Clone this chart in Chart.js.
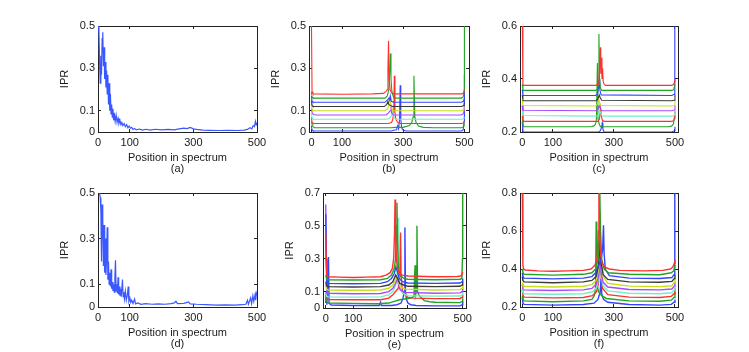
<!DOCTYPE html>
<html>
<head>
<meta charset="utf-8">
<script src="https://cdn.jsdelivr.net/npm/chart.js@4.4.1/dist/chart.umd.min.js"></script>
<style>
  html, body { margin: 0; padding: 0; background: #fff; }
  body { width: 749px; height: 352px; position: relative; overflow: hidden; }
  canvas { position: absolute; }
</style>
</head>
<body>
<canvas id="pa"></canvas>
<canvas id="pb"></canvas>
<canvas id="pc"></canvas>
<canvas id="pd"></canvas>
<canvas id="pe"></canvas>
<canvas id="pf"></canvas>
<script>
// tick labels
const xTicks = [0, 100, 300, 500];
const yTicksAB = [0, 0.1, 0.3, 0.5];
const yTicksC = [0.2, 0.4, 0.6];
const yTicksE = [0, 0.1, 0.3, 0.5, 0.7];
const yTicksF = [0.2, 0.4, 0.6, 0.8];

// line colours, top curve to bottom curve
const lineColors = ['#ff3030', '#22a322', '#3344ff', '#3a3a3a', '#c8de18', '#a848ff', '#70f0c4', '#ff3030', '#22a322', '#3344ff'];
const singleColor = '#3a58ff';

// (a) single sample, [position, IPR]
const iprA = [[1,0.5],[3,0.47],[5,0.33],[7,0.23],[9,0.36],[11,0.27],[13,0.44],[15,0.47],[17,0.31],[19,0.40],[21,0.25],[23,0.33],[25,0.21],[27,0.29],[29,0.18],[31,0.27],[33,0.13],[35,0.23],[37,0.10],[39,0.18],[41,0.085],[43,0.13],[45,0.07],[47,0.11],[49,0.055],[51,0.09],[54,0.05],[57,0.08],[60,0.045],[63,0.065],[66,0.04],[69,0.055],[72,0.035],[75,0.045],[78,0.03],[82,0.04],[86,0.025],[90,0.035],[94,0.02],[98,0.028],[102,0.018],[106,0.022],[110,0.012],[115,0.017],[120,0.01],[130,0.014],[140,0.009],[150,0.013],[165,0.009],[180,0.013],[200,0.01],[220,0.012],[240,0.01],[255,0.015],[270,0.018],[280,0.016],[290,0.022],[300,0.015],[310,0.012],[330,0.009],[350,0.008],[380,0.007],[410,0.008],[440,0.007],[460,0.009],[470,0.012],[478,0.02],[484,0.015],[488,0.03],[492,0.025],[495,0.05],[497,0.035],[499,0.045],[500,0.03]];

// (d) single sample
const iprD = [[5,0.5],[7,0.48],[9,0.42],[11,0.2],[13,0.45],[15,0.38],[17,0.18],[19,0.36],[21,0.15],[23,0.3],[25,0.14],[27,0.22],[29,0.35],[31,0.12],[33,0.2],[35,0.1],[37,0.15],[39,0.09],[41,0.165],[43,0.08],[45,0.11],[47,0.07],[49,0.1],[51,0.065],[53,0.13],[55,0.205],[57,0.07],[59,0.1],[61,0.06],[63,0.13],[65,0.055],[67,0.09],[69,0.05],[71,0.08],[73,0.045],[77,0.12],[79,0.045],[81,0.065],[83,0.035],[86,0.07],[89,0.03],[92,0.05],[95,0.09],[97,0.025],[100,0.04],[103,0.02],[106,0.03],[110,0.015],[115,0.035],[118,0.014],[125,0.018],[135,0.012],[150,0.015],[170,0.012],[190,0.014],[210,0.012],[230,0.015],[240,0.018],[245,0.025],[250,0.015],[270,0.016],[285,0.022],[290,0.014],[310,0.012],[340,0.01],[370,0.008],[400,0.009],[430,0.008],[455,0.01],[465,0.012],[470,0.03],[473,0.012],[480,0.04],[483,0.015],[487,0.05],[490,0.025],[494,0.055],[496,0.03],[498,0.06],[500,0.05]];

// (b) ten curves
const iprB = [
  [[0,0.52],[2,0.19],[5,0.18],[100,0.178],[200,0.18],[235,0.182],[243,0.19],[248,0.2],[250,0.3],[252,0.43],[254,0.25],[257,0.2],[262,0.185],[270,0.18],[300,0.18],[400,0.18],[490,0.18],[496,0.182],[498,0.19],[500,0.2]],
  [[0,0.19],[2,0.165],[5,0.16],[240,0.16],[248,0.17],[253,0.2],[256,0.3],[258,0.37],[260,0.25],[263,0.19],[268,0.165],[275,0.16],[490,0.16],[496,0.165],[499,0.19],[500,0.5]],
  [[0,0.17],[2,0.145],[5,0.14],[240,0.14],[248,0.15],[253,0.16],[256,0.15],[258,0.17],[261,0.145],[268,0.14],[490,0.14],[497,0.145],[500,0.16]],
  [[0,0.15],[2,0.125],[5,0.12],[238,0.12],[246,0.13],[250,0.145],[253,0.13],[258,0.125],[265,0.12],[490,0.12],[498,0.125],[500,0.14]],
  [[0,0.14],[2,0.105],[5,0.1],[240,0.1],[250,0.11],[255,0.16],[258,0.14],[262,0.12],[265,0.1],[490,0.1],[498,0.105],[500,0.12]],
  [[0,0.11],[1,0.1],[3,0.09],[6,0.082],[15,0.08],[244,0.08],[252,0.09],[257,0.1],[260,0.12],[262,0.09],[268,0.08],[490,0.08],[496,0.085],[499,0.1],[500,0.12]],
  [[0,0.09],[2,0.065],[5,0.06],[245,0.06],[255,0.065],[262,0.08],[266,0.1],[270,0.07],[275,0.06],[490,0.06],[498,0.063],[500,0.07]],
  [[0,0.07],[2,0.045],[5,0.04],[250,0.04],[262,0.045],[266,0.06],[269,0.1],[271,0.265],[273,0.09],[276,0.06],[282,0.045],[290,0.04],[490,0.04],[498,0.043],[500,0.05]],
  [[0,0.05],[3,0.03],[6,0.025],[10,0.02],[260,0.02],[275,0.022],[300,0.022],[320,0.03],[328,0.045],[332,0.07],[335,0.265],[338,0.07],[342,0.045],[350,0.028],[365,0.022],[400,0.02],[490,0.02],[498,0.025],[500,0.04]],
  [[0,0.03],[2,0.01],[5,0.005],[260,0.005],[270,0.008],[278,0.01],[282,0.03],[285,0.015],[288,0.06],[290,0.22],[292,0.06],[295,0.02],[300,0.008],[310,0.005],[490,0.005],[496,0.01],[499,0.05],[500,0.27]]
];

// (c) ten curves
const iprC = [
  [[0,0.62],[2,0.38],[5,0.376],[240,0.376],[248,0.38],[251,0.39],[253,0.45],[255,0.52],[257,0.42],[259,0.48],[261,0.4],[263,0.44],[265,0.39],[268,0.38],[272,0.376],[490,0.376],[496,0.38],[499,0.39],[500,0.4]],
  [[0,0.38],[2,0.36],[5,0.357],[240,0.357],[246,0.36],[249,0.38],[251,0.57],[253,0.4],[256,0.365],[260,0.357],[490,0.357],[496,0.36],[500,0.38]],
  [[0,0.36],[2,0.34],[5,0.338],[240,0.338],[247,0.345],[250,0.37],[252,0.4],[254,0.36],[258,0.34],[490,0.338],[497,0.342],[499,0.36],[500,0.62]],
  [[0,0.34],[2,0.32],[5,0.318],[242,0.318],[248,0.325],[252,0.34],[255,0.33],[260,0.32],[490,0.318],[498,0.32],[500,0.34]],
  [[0,0.32],[2,0.3],[240,0.298],[246,0.305],[250,0.33],[253,0.31],[258,0.3],[490,0.298],[498,0.3],[500,0.32]],
  [[0,0.3],[2,0.282],[240,0.28],[248,0.285],[252,0.3],[256,0.29],[260,0.28],[490,0.28],[498,0.283],[500,0.3]],
  [[0,0.28],[2,0.262],[245,0.26],[250,0.265],[254,0.28],[257,0.27],[262,0.26],[490,0.26],[498,0.263],[500,0.28]],
  [[0,0.3],[2,0.245],[5,0.24],[248,0.24],[253,0.25],[256,0.29],[259,0.26],[262,0.245],[268,0.24],[490,0.24],[496,0.243],[499,0.26],[500,0.28]],
  [[0,0.26],[2,0.225],[5,0.22],[225,0.22],[235,0.223],[240,0.23],[243,0.25],[246,0.46],[248,0.25],[252,0.23],[256,0.22],[480,0.22],[490,0.223],[495,0.23],[498,0.25],[500,0.26]],
  [[0,0.24],[2,0.202],[5,0.2],[250,0.2],[256,0.205],[260,0.22],[262,0.235],[264,0.21],[268,0.2],[490,0.2],[498,0.205],[500,0.22]]
];

// (e) ten curves
const iprE = [
  [[0,0.45],[2,0.3],[4,0.2],[8,0.19],[50,0.188],[100,0.186],[150,0.188],[200,0.19],[220,0.2],[235,0.215],[243,0.24],[248,0.3],[251,0.45],[253,0.66],[255,0.45],[258,0.3],[262,0.24],[268,0.21],[280,0.2],[300,0.195],[400,0.19],[480,0.192],[492,0.195],[497,0.2],[500,0.22]],
  [[0,0.2],[3,0.18],[8,0.172],[100,0.17],[200,0.172],[225,0.18],[240,0.2],[250,0.24],[255,0.3],[258,0.5],[260,0.64],[262,0.4],[265,0.26],[270,0.2],[285,0.18],[300,0.175],[400,0.172],[490,0.175],[497,0.18],[499,0.3],[500,0.7]],
  [[0,0.57],[2,0.3],[4,0.16],[8,0.15],[100,0.148],[200,0.15],[225,0.16],[240,0.18],[250,0.21],[256,0.25],[262,0.22],[268,0.18],[280,0.16],[300,0.152],[400,0.15],[490,0.152],[498,0.16],[500,0.18]],
  [[0,0.16],[3,0.135],[8,0.13],[100,0.128],[200,0.13],[230,0.14],[245,0.16],[255,0.2],[262,0.18],[270,0.15],[285,0.14],[300,0.132],[400,0.13],[490,0.132],[498,0.14],[500,0.16]],
  [[0,0.14],[3,0.115],[8,0.11],[100,0.108],[200,0.11],[230,0.12],[245,0.14],[255,0.17],[262,0.2],[265,0.16],[272,0.13],[290,0.115],[400,0.11],[490,0.112],[498,0.12],[500,0.14]],
  [[0,0.63],[2,0.3],[4,0.1],[8,0.09],[100,0.087],[200,0.088],[230,0.1],[245,0.12],[255,0.15],[262,0.18],[266,0.14],[272,0.11],[290,0.095],[400,0.09],[490,0.092],[498,0.1],[500,0.13]],
  [[0,0.09],[3,0.072],[8,0.068],[100,0.066],[200,0.068],[230,0.08],[245,0.1],[255,0.14],[260,0.2],[264,0.55],[266,0.25],[270,0.12],[280,0.09],[300,0.075],[400,0.072],[490,0.073],[498,0.08],[500,0.1]],
  [[0,0.09],[2,0.07],[5,0.06],[10,0.052],[100,0.05],[200,0.05],[230,0.06],[245,0.08],[255,0.1],[265,0.12],[270,0.2],[273,0.46],[275,0.2],[280,0.1],[290,0.08],[300,0.065],[320,0.06],[400,0.057],[490,0.058],[498,0.065],[500,0.08]],
  [[0,0.06],[3,0.04],[8,0.03],[100,0.028],[190,0.026],[230,0.03],[250,0.04],[270,0.05],[290,0.055],[310,0.06],[322,0.07],[326,0.26],[328,0.08],[331,0.1],[333,0.5],[335,0.1],[340,0.08],[350,0.06],[360,0.045],[380,0.038],[400,0.035],[490,0.033],[498,0.04],[500,0.06]],
  [[0,0.03],[2,0.1],[4,0.02],[10,0.31],[12,0.03],[20,0.018],[100,0.015],[195,0.015],[200,0.035],[203,0.015],[240,0.015],[260,0.02],[275,0.03],[282,0.06],[287,0.1],[289,0.49],[291,0.1],[295,0.05],[300,0.03],[310,0.02],[330,0.015],[400,0.013],[490,0.013],[498,0.02],[500,0.04]]
];

// (f) ten curves
const iprF = [
  [[0,0.82],[2,0.42],[4,0.4],[10,0.395],[50,0.39],[100,0.388],[150,0.39],[200,0.393],[225,0.4],[238,0.42],[245,0.46],[249,0.6],[251,0.8],[253,0.6],[256,0.48],[262,0.43],[270,0.41],[285,0.4],[320,0.393],[400,0.39],[460,0.393],[485,0.4],[493,0.41],[498,0.43],[500,0.45]],
  [[0,0.4],[2,0.38],[6,0.372],[100,0.368],[200,0.372],[228,0.38],[240,0.4],[248,0.45],[252,0.6],[254,0.8],[256,0.6],[260,0.45],[268,0.4],[282,0.38],[350,0.372],[450,0.37],[488,0.38],[496,0.39],[500,0.42]],
  [[0,0.38],[2,0.36],[6,0.352],[100,0.348],[200,0.352],[228,0.36],[240,0.38],[250,0.42],[258,0.45],[263,0.5],[266,0.63],[268,0.48],[272,0.4],[285,0.365],[350,0.352],[450,0.35],[490,0.355],[497,0.37],[499,0.5],[500,0.82]],
  [[0,0.36],[2,0.34],[6,0.332],[100,0.328],[200,0.332],[228,0.34],[242,0.36],[250,0.42],[254,0.55],[257,0.44],[265,0.37],[280,0.345],[350,0.332],[450,0.33],[490,0.335],[498,0.35],[500,0.37]],
  [[0,0.33],[2,0.315],[6,0.309],[100,0.305],[200,0.309],[228,0.318],[242,0.34],[250,0.4],[255,0.7],[258,0.45],[265,0.36],[280,0.325],[350,0.31],[450,0.307],[490,0.312],[498,0.33],[500,0.35]],
  [[0,0.32],[2,0.295],[6,0.29],[100,0.287],[200,0.29],[228,0.298],[242,0.32],[250,0.36],[255,0.45],[258,0.38],[265,0.33],[280,0.305],[350,0.292],[450,0.29],[490,0.295],[498,0.31],[500,0.33]],
  [[0,0.3],[2,0.275],[6,0.27],[100,0.267],[200,0.27],[230,0.28],[243,0.3],[250,0.35],[254,0.6],[257,0.38],[265,0.31],[280,0.285],[350,0.272],[450,0.27],[490,0.275],[498,0.29],[500,0.31]],
  [[0,0.29],[2,0.262],[6,0.252],[100,0.248],[200,0.25],[230,0.26],[243,0.28],[250,0.33],[254,0.7],[256,0.4],[262,0.3],[280,0.265],[350,0.252],[450,0.25],[488,0.256],[497,0.27],[500,0.3]],
  [[0,0.26],[2,0.24],[6,0.232],[100,0.228],[200,0.232],[228,0.24],[236,0.26],[240,0.3],[242,0.65],[244,0.32],[250,0.28],[260,0.26],[275,0.245],[350,0.232],[450,0.23],[488,0.236],[497,0.25],[500,0.28]],
  [[0,0.25],[2,0.22],[6,0.214],[100,0.21],[200,0.213],[235,0.22],[248,0.24],[255,0.28],[258,0.35],[260,0.27],[266,0.24],[280,0.225],[350,0.213],[450,0.21],[488,0.214],[497,0.225],[500,0.24]]
];

const textColor = '#1a1a1a';
const frameColor = '#222222';
const baseFont = { family: 'Liberation Sans, Arial, sans-serif', size: 11 };
// room around the plot box inside each canvas
const PAD_TOP = 16, PAD_RIGHT = 22, Y_AXIS_W = 60, X_AXIS_H = 50;

function toXY(pts) {
  return pts.map(p => ({ x: p[0], y: p[1] }));
}

// shared look of an axis: border line plus short inward tick marks
function frameAxis(position, min, max, tickValues, extra) {
  const horizontal = position === 'top' || position === 'bottom';
  return Object.assign({
    type: 'linear',
    position: position,
    min: min,
    max: max,
    border: { display: true, color: frameColor, width: 1 },
    grid: { display: true, drawOnChartArea: false, drawTicks: true, tickLength: -3, color: frameColor, lineWidth: 1 },
    afterBuildTicks: s => { s.ticks = tickValues.map(v => ({ value: v })); },
    ticks: { display: false, autoSkip: false, maxRotation: 0 },
    afterFit: s => { if (horizontal) s.height = 0; else s.width = 0; }
  }, extra || {});
}

function makePlot(id, box, xMin, xMax, yMin, yMax, yTicks, caption, series, colors, lw) {
  const cv = document.getElementById(id);
  const w = box.r - box.l + Y_AXIS_W + PAD_RIGHT, h = box.b - box.t + PAD_TOP + X_AXIS_H;
  cv.width = w; cv.height = h;
  cv.style.left = (box.l - Y_AXIS_W) + 'px';
  cv.style.top = (box.t - PAD_TOP) + 'px';
  cv.style.width = w + 'px';
  cv.style.height = h + 'px';

  new Chart(cv, {
    type: 'line',
    data: {
      datasets: series.map((pts, i) => ({
        data: toXY(pts),
        borderColor: colors[i],
        borderWidth: lw,
        pointRadius: 0,
        tension: 0,
        xAxisID: 'x',
        yAxisID: 'y'
      }))
    },
    options: {
      responsive: false,
      animation: false,
      devicePixelRatio: 1,
      layout: { padding: { top: PAD_TOP, right: PAD_RIGHT, left: 0, bottom: 0 }, autoPadding: false },
      plugins: { legend: { display: false }, tooltip: { enabled: false } },
      scales: {
        x: frameAxis('bottom', xMin, xMax, xTicks, {
          afterFit: s => { s.height = X_AXIS_H; },
          ticks: { display: true, font: baseFont, color: textColor, padding: 7, maxRotation: 0, autoSkip: false, callback: v => String(v) },
          title: { display: true, text: ['Position in spectrum', caption], color: textColor,
                   font: { ...baseFont, lineHeight: 1 }, padding: { top: 0, bottom: 8 } }
        }),
        y: frameAxis('left', yMin, yMax, yTicks, {
          afterFit: s => { s.width = Y_AXIS_W; },
          ticks: { display: true, font: baseFont, color: textColor, padding: 6, autoSkip: false, callback: v => String(v) },
          title: { display: true, text: 'IPR', color: textColor, font: baseFont, padding: { top: 20, bottom: 0 } }
        }),
        x2: frameAxis('top', xMin, xMax, xTicks),
        y2: frameAxis('right', yMin, yMax, yTicks)
      }
    }
  });
}

makePlot('pa', { l: 98, r: 257, t: 26, b: 132 }, 0, 500, 0, 0.5, yTicksAB, '(a)', [iprA], [singleColor], 1.2);
makePlot('pb', { l: 309, r: 469, t: 26, b: 132 }, -8, 515, 0, 0.5, yTicksAB, '(b)', iprB, lineColors, 1.1);
makePlot('pc', { l: 520, r: 678, t: 26, b: 132 }, -7.5, 510, 0.2, 0.6, yTicksC, '(c)', iprC, lineColors, 1.1);
makePlot('pd', { l: 98, r: 257, t: 193, b: 307 }, 0, 500, 0, 0.5, yTicksAB, '(d)', [iprD], [singleColor], 1.2);
makePlot('pe', { l: 323, r: 466, t: 193, b: 308 }, -10, 512, 0, 0.7, yTicksE, '(e)', iprE, lineColors, 1.4);
makePlot('pf', { l: 520, r: 678, t: 193, b: 307 }, -7.5, 510, 0.2, 0.8, yTicksF, '(f)', iprF, lineColors, 1.4);
</script>
</body>
</html>
